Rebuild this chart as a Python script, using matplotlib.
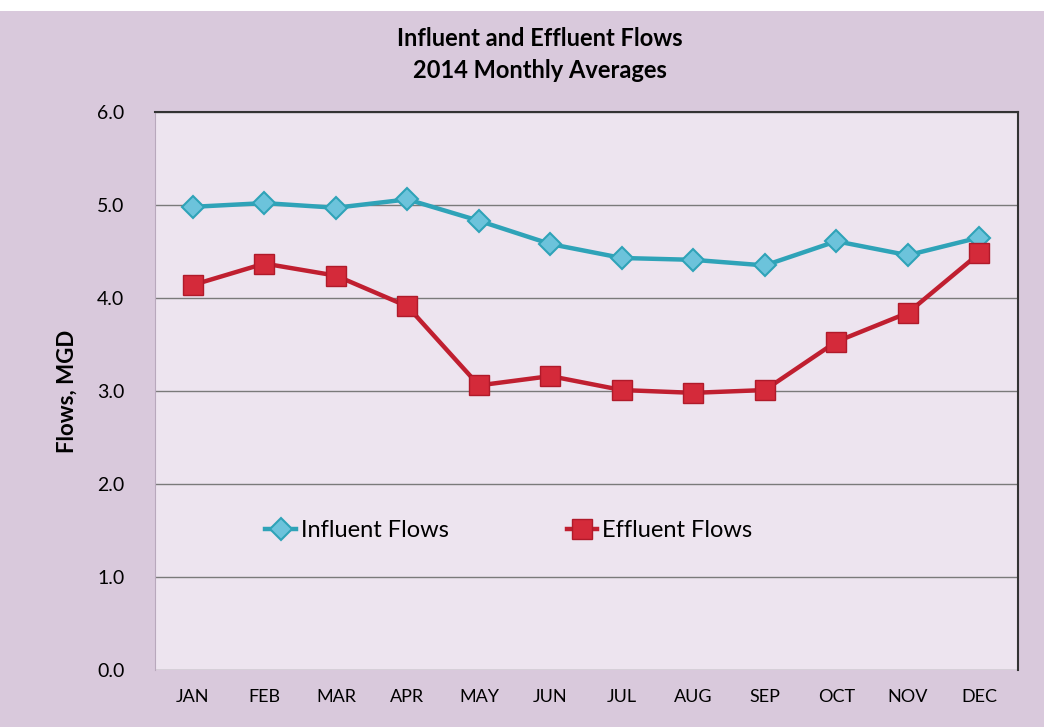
import matplotlib
matplotlib.use("Agg")
import matplotlib.pyplot as plt
from matplotlib.patches import Rectangle

months = ["JAN", "FEB", "MAR", "APR", "MAY", "JUN", "JUL", "AUG", "SEP", "OCT", "NOV", "DEC"]
influent = [4.98, 5.02, 4.97, 5.06, 4.83, 4.58, 4.43, 4.41, 4.35, 4.61, 4.46, 4.65]
effluent = [4.14, 4.37, 4.24, 3.91, 3.06, 3.16, 3.01, 2.98, 3.01, 3.53, 3.84, 4.48]

plt.rcParams['font.family'] = ['Lato', 'DejaVu Sans']

fig = plt.figure(figsize=(10.44, 7.27), dpi=100, facecolor="#d9c9dc")
# white strip at top of the scan
fig.patches.append(Rectangle((0, 0.985), 1, 0.015, transform=fig.transFigure,
                             facecolor="white", edgecolor="none"))
ax = fig.add_axes([0.1485, 0.0784, 0.8265, 0.7676])
ax.set_facecolor("#ede4ef")

x = range(len(months))
ax.plot(x, influent, '-', color="#2fa3b8", lw=3.2, marker='D', markersize=11,
        markerfacecolor="#6cc3db", markeredgecolor="#2fa3b8", markeredgewidth=1.5,
        label="Influent Flows", zorder=3)
ax.plot(x, effluent, '-', color="#c01f30", lw=3.2, marker='s', markersize=14,
        markerfacecolor="#d42a3a", markeredgecolor="#b01a2a", markeredgewidth=1,
        label="Effluent Flows", zorder=3)

ax.set_ylim(0, 6)
ax.set_xlim(-0.53, 11.54)
ax.set_yticks([0, 1, 2, 3, 4, 5, 6])
ax.set_yticklabels(["0.0", "1.0", "2.0", "3.0", "4.0", "5.0", "6.0"], fontsize=14)
ax.set_xticks(list(x))
ax.set_xticklabels(months, fontsize=13)
ax.tick_params(axis='x', length=0, pad=14)
ax.tick_params(axis='y', length=0, pad=22)
ax.yaxis.grid(True, color="#7a7a7a", lw=1)
ax.set_axisbelow(True)
ax.spines["bottom"].set_visible(False)
ax.spines["left"].set_color("#b8a8bc")
ax.spines["top"].set_color("#333333")
ax.spines["top"].set_linewidth(1.5)
ax.spines["right"].set_color("#333333")
ax.spines["right"].set_linewidth(1.5)

ax.set_ylabel("Flows, MGD", fontsize=16, fontweight="bold", labelpad=14)
fig.text(0.5175, 0.925, "Influent and Effluent Flows\n2014 Monthly Averages",
         ha="center", va="center", fontsize=17, fontweight="bold", linespacing=1.5)

ax.legend(loc="center", bbox_to_anchor=(0.41, 0.25), ncol=2, frameon=False,
          fontsize=17, columnspacing=5, handlelength=1.3, handletextpad=0.2)

fig.savefig("out.png", dpi=100, facecolor=fig.get_facecolor())
